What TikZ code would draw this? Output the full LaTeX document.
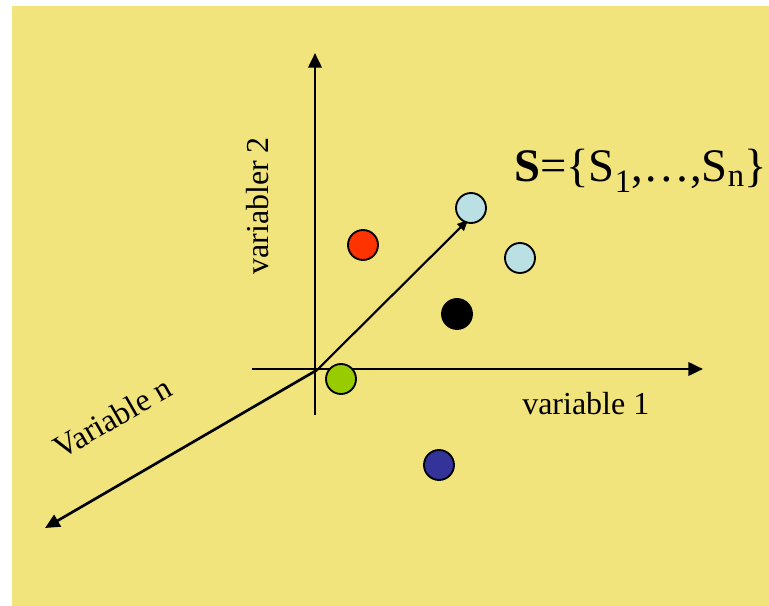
\documentclass[tikz,border=0pt]{standalone}
\usepackage{fontspec}
\setmainfont{Liberation Serif}
\usetikzlibrary{arrows.meta}

\begin{document}
\begin{tikzpicture}[
    x=0.75pt, y=-0.75pt,
    axis/.style={draw=black, line width=2pt, -{Triangle[length=11pt, width=10pt]}},
    vec/.style={draw=black, line width=1.6pt, -{Triangle[length=8pt, width=7pt]}},
    dot/.style={
        circle, draw=black, line width=1.4pt,
        minimum size=22.5pt, inner sep=0pt
    },
    lbl/.style={font=\fontsize{24}{28}\selectfont, inner sep=0pt}
]
\useasboundingbox (0,0) rectangle (769,606);
\fill[fill={rgb,255:red,242;green,228;blue,124}] (12,6) rectangle (769,606);

% -------------------------
% 1. Axes
% -------------------------
\coordinate (o) at (317,370);
\coordinate (xstart) at (252,369);
\coordinate (xend) at (703,369);
\coordinate (ystart) at (315,415);
\coordinate (yend) at (315,53);
\coordinate (nend) at (45,528);
\coordinate (tip) at (468,220);

\draw[axis] (ystart) -- (yend);
\draw[axis] (xstart) -- (xend);
\draw[axis] (o) -- (nend);

\node[lbl, anchor=base west] (Var1) at (522,415) {variable 1};
\node[lbl, anchor=base west, rotate=90] (Var2) at (268,275) {variabler 2};
\node[lbl, anchor=base west, rotate=30] (VarN) at (61,460) {Variable n};

% -------------------------
% 2. Samples
% -------------------------
\draw[vec] (o) -- (tip);

\node[dot, fill={rgb,255:red,187;green,224;blue,227}] (S1) at (471,208) {};
\node[dot, fill={rgb,255:red,187;green,224;blue,227}] (S2) at (520,258) {};
\node[dot, fill={rgb,255:red,255;green,51;blue,0}] (S3) at (363,245) {};
\node[dot, fill=black] (S4) at (457,314) {};
\node[dot, fill={rgb,255:red,153;green,204;blue,0}] (S5) at (341,379) {};
\node[dot, fill={rgb,255:red,51;green,51;blue,153}] (S6) at (439,465) {};

\node[font=\fontsize{35}{40}\selectfont, inner sep=0pt, anchor=base west] (Set) at (514,182)
    {\textbf{S}=\{S\textsubscript{1},\ldots,S\textsubscript{n}\}};

\end{tikzpicture}
\end{document}
